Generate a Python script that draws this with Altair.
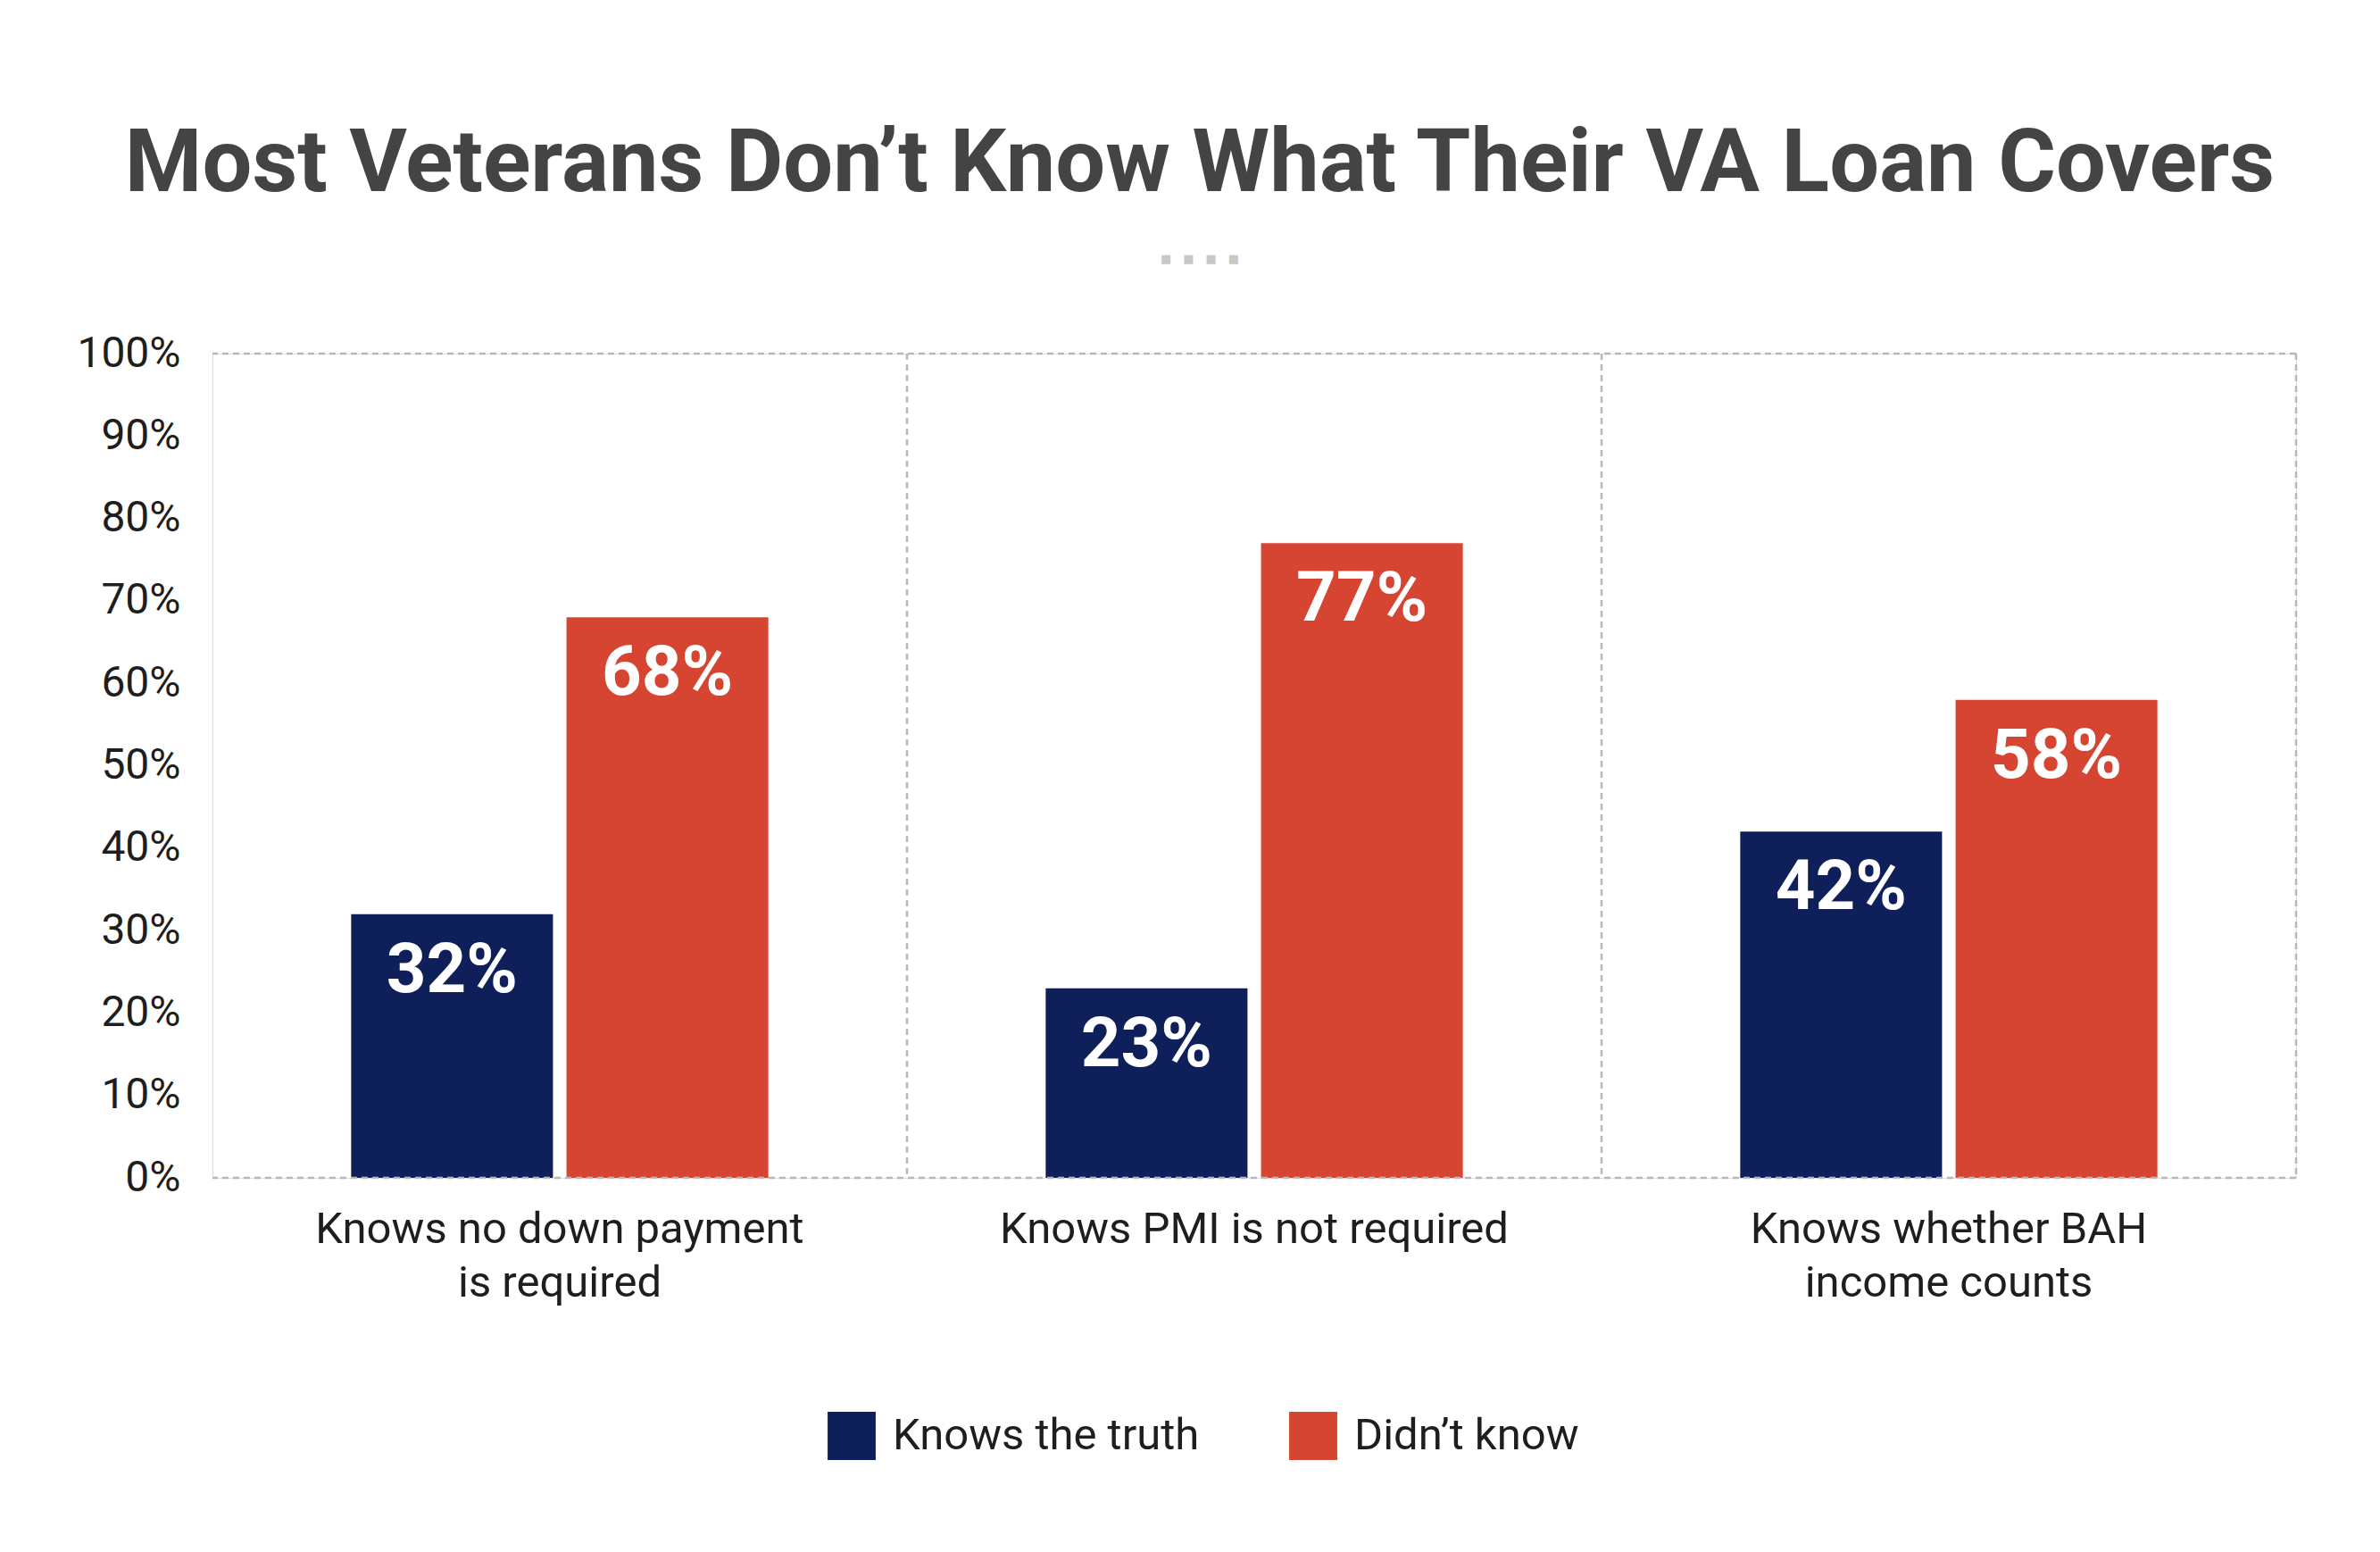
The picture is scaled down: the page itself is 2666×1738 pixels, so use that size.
import altair as alt
import pandas as pd

categories = ["Knows no down payment|is required", "Knows PMI is not required", "Knows whether BAH|income counts"]
series = ["Knows the truth", "Didn\u2019t know"]
knows_truth = [32, 23, 42]
didnt_know = [68, 77, 58]
y_ticks = [0, 10, 20, 30, 40, 50, 60, 70, 80, 90, 100]
frame_levels = [0, 100]
colors = ["#0f1f5a", "#d64532"]

rows = []
for c, a, b in zip(categories, knows_truth, didnt_know):
    rows.append({"cat": c, "series": series[0], "value": a, "label": f"{a}%"})
    rows.append({"cat": c, "series": series[1], "value": b, "label": f"{b}%"})
df = pd.DataFrame(rows)
cat_df = pd.DataFrame({"cat": categories})
lvl_df = pd.DataFrame({"lvl": frame_levels})

W, H = 2334, 923
FONT = "Roboto"

x_axis = alt.Axis(labelExpr="split(datum.value, '|')", labelAngle=0,
                  labelAlign="center", labelBaseline="top",
                  labelFontSize=49, labelColor="#1e1e1e", labelFont=FONT,
                  labelLineHeight=60, labelPadding=33, ticks=False,
                  domain=False, grid=False, labelLimit=1000)
y_axis = alt.Axis(values=y_ticks, labelExpr="datum.value + '%'",
                  labelFontSize=48, labelColor="#1e1e1e", labelFont=FONT,
                  labelPadding=36, ticks=False, domain=False, grid=False)
x_scale = alt.Scale(paddingInner=0, paddingOuter=0)
y_scale = alt.Scale(domain=[0, 100], nice=False)

xoff = alt.XOffset("series:N", sort=series,
                   scale=alt.Scale(paddingInner=0.063, paddingOuter=0.644))
color_enc = alt.Color("series:N", sort=series,
                      scale=alt.Scale(domain=series, range=colors),
                      legend=alt.Legend(title=None, orient="none", direction="horizontal",
                                        legendX=689, legendY=1185,
                                        symbolType="square", symbolSize=2900,
                                        symbolStrokeWidth=0, symbolOpacity=1,
                                        labelFontSize=49, labelFont=FONT,
                                        labelColor="#1e1e1e", labelOffset=19,
                                        columnPadding=100, labelLimit=1000))

bars = alt.Chart(df).mark_bar().encode(
    x=alt.X("cat:N", sort=categories, title=None, scale=x_scale, axis=x_axis),
    xOffset=xoff,
    y=alt.Y("value:Q", title=None, scale=y_scale, axis=y_axis),
    color=color_enc)

labels = alt.Chart(df).mark_text(color="white", font=FONT, fontWeight="bold",
                                 fontSize=78, baseline="middle", dy=64).encode(
    x=alt.X("cat:N", sort=categories, title=None, axis=x_axis),
    xOffset=alt.XOffset("series:N", sort=series),
    y=alt.Y("value:Q", title=None, axis=y_axis), text="label:N")

hrules = alt.Chart(lvl_df).mark_rule(color="#b8b8b8", strokeDash=[7, 5], strokeWidth=2.5).encode(
    y=alt.Y("lvl:Q", title=None, scale=y_scale, axis=y_axis))

vrules = alt.Chart(cat_df).mark_rule(color="#b8b8b8", strokeDash=[7, 5], strokeWidth=2.5).encode(
    x=alt.X("cat:N", sort=categories, bandPosition=1, title=None, axis=x_axis))

chart = alt.layer(bars, labels, vrules, hrules).properties(
    width=W, height=H,
    autosize=alt.AutoSizeParams(type="none"),
    padding={"left": 230, "top": 388, "right": 86, "bottom": 411},
    title=alt.TitleParams(
        "Most Veterans Don\u2019t Know What Their VA Loan Covers",
        subtitle="\u25aa \u25aa \u25aa \u25aa",
        fontSize=99, font=FONT, fontWeight="bold", color="#444444",
        subtitleFontSize=40, subtitleColor="#c8c8c8", subtitlePadding=36,
        anchor="middle", dx=-61, offset=60),
).configure_view(
    stroke="transparent", strokeWidth=0, strokeOpacity=0
).configure_axis(
    domain=False, grid=False, ticks=False
).configure(background="white")

chart.save("out.html", embed_options={"renderer": "svg", "actions": False})
